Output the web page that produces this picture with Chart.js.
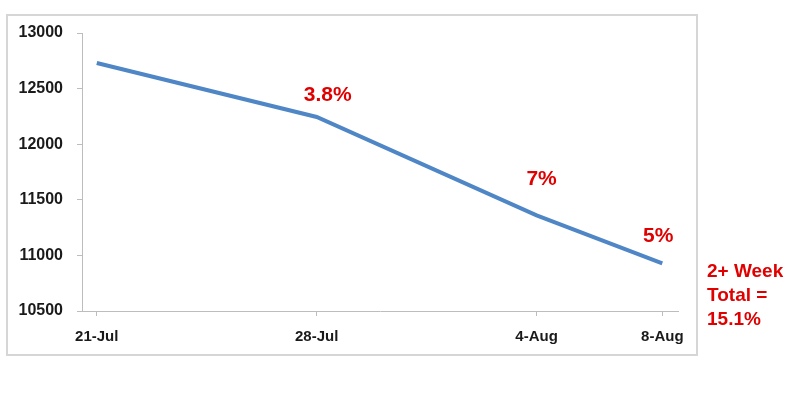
<!DOCTYPE html>
<html lang="en">
<head>
    <meta charset="UTF-8">
    <title>Weekly Decline</title>
    <script src="https://cdn.jsdelivr.net/npm/chart.js"></script>
    <style>
        html, body { margin: 0; padding: 0; background: #fff; }
        #wrap { width: 807px; height: 404px; }
    </style>
</head>
<body>
    <div id="wrap"><canvas id="lineChart"></canvas></div>

    <script>
        // data (x = days since 21-Jul)
        const dayOffsets = [0, 7, 14, 18];
        const dateLabels = ['21-Jul', '28-Jul', '4-Aug', '8-Aug'];
        const counts = [12730, 12245, 11360, 10928];
        const yTicks = [10500, 11000, 11500, 12000, 12500, 13000];
        const changeLabels = ['', '3.8%', '7%', '5%'];
        const totalNote = ['2+ Week', 'Total =', '15.1%'];

        const red = '#e00000';
        const labelLift = [0, 22, 36, 27];   // how far each % label sits above its point
        const labelShift = [0, 11, 5, -4];

        // frame + red annotations
        const notes = {
            id: 'notes',
            afterDraw(chart) {
                const ctx = chart.ctx;
                const x = chart.scales.x, y = chart.scales.y;
                ctx.save();
                ctx.strokeStyle = '#d6d6d6';
                ctx.lineWidth = 2;
                ctx.strokeRect(7, 15, 690, 340);

                ctx.fillStyle = red;
                ctx.font = 'bold 21px "Liberation Sans", Arial, sans-serif';
                ctx.textAlign = 'center';
                ctx.textBaseline = 'middle';
                changeLabels.forEach((t, i) => {
                    if (!t) return;
                    ctx.fillText(t, x.getPixelForValue(dayOffsets[i]) + labelShift[i],
                        y.getPixelForValue(counts[i]) - labelLift[i]);
                });

                ctx.font = 'bold 19px "Liberation Sans", Arial, sans-serif';
                ctx.textAlign = 'left';
                totalNote.forEach((t, i) => ctx.fillText(t, 707, 272 + i * 24));
                ctx.restore();
            }
        };

        new Chart(document.getElementById('lineChart'), {
            type: 'line',
            data: {
                datasets: [{
                    data: dayOffsets.map((d, i) => ({ x: d, y: counts[i] })),
                    borderColor: '#4f86c6',
                    borderWidth: 4,
                    pointRadius: 0,
                    tension: 0,
                    fill: false
                }]
            },
            options: {
                responsive: true,
                maintainAspectRatio: false,
                animation: false,
                layout: { padding: { left: 0, right: 129, top: 33, bottom: 0 } },
                plugins: { legend: { display: false }, tooltip: { enabled: false } },
                scales: {
                    x: {
                        type: 'linear',
                        min: -0.47,
                        max: 18.5,
                        afterFit: s => { s.height = 93; },
                        afterBuildTicks: s => { s.ticks = dayOffsets.map(v => ({ value: v })); },
                        grid: { drawOnChartArea: false, color: '#bdbdbd', tickLength: 5 },
                        border: { color: '#bdbdbd' },
                        ticks: {
                            autoSkip: false,
                            maxRotation: 0,
                            padding: 12,
                            color: '#1a1a1a',
                            font: { family: '"Liberation Sans", Arial, sans-serif', size: 15, weight: 'bold' },
                            callback: (v, i) => dateLabels[i]
                        }
                    },
                    y: {
                        min: 10500,
                        max: 13000,
                        afterFit: s => { s.width = 82; },
                        afterBuildTicks: s => { s.ticks = yTicks.map(v => ({ value: v })); },
                        grid: { drawOnChartArea: false, color: '#bdbdbd', tickLength: 5 },
                        border: { color: '#bdbdbd' },
                        ticks: {
                            padding: 14,
                            color: '#1a1a1a',
                            font: { family: '"Liberation Sans", Arial, sans-serif', size: 16, weight: 'bold' },
                            callback: v => String(v)
                        }
                    }
                }
            },
            plugins: [notes]
        });
    </script>
</body>
</html>
